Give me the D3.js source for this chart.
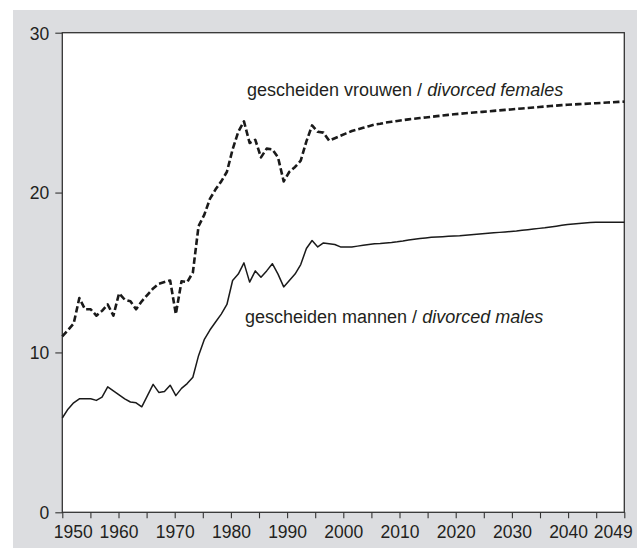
<!DOCTYPE html>
<html>
<head>
<meta charset="utf-8">
<script src="https://cdn.jsdelivr.net/npm/d3@7/dist/d3.min.js"></script>
<style>
  html, body { margin: 0; padding: 0; background: #ffffff; }
  svg { display: block; }
  text { font-family: "Liberation Sans", Arial, Helvetica, sans-serif; fill: #231f20; }
</style>
</head>
<body>
<svg id="chart" width="637" height="548"></svg>
<script>
// ---------------- data ----------------
const firstYear = 1950;
const lastYear = 2049;

// gescheiden vrouwen / divorced females (%), 1950 .. 2049
const femaleValues = [
  11.0, 11.4, 11.8, 13.4, 12.7, 12.7, 12.3, 12.6, 13.0, 12.3,   // 1950-1959
  13.7, 13.3, 13.2, 12.7, 13.2, 13.6, 14.0, 14.3, 14.4, 14.5,   // 1960-1969
  12.4, 14.45, 14.4, 15.0, 17.9, 18.6, 19.6, 20.2, 20.7, 21.3,  // 1970-1979
  22.7, 23.8, 24.45, 23.1, 23.3, 22.2, 22.75, 22.7, 22.2, 20.7, // 1980-1989
  21.3, 21.6, 22.0, 23.2, 24.2, 23.8, 23.75, 23.25, 23.4, 23.55,// 1990-1999
  23.7, 23.85, 23.95, 24.05, 24.15, 24.25, 24.3, 24.38, 24.43, 24.48, // 2000-2009
  24.53, 24.58, 24.62, 24.66, 24.7, 24.74, 24.78, 24.82, 24.86, 24.9, // 2010-2019
  24.93, 24.96, 24.99, 25.02, 25.05, 25.08, 25.11, 25.14, 25.17, 25.2, // 2020-2029
  25.23, 25.26, 25.29, 25.32, 25.35, 25.38, 25.41, 25.44, 25.47, 25.49, // 2030-2039
  25.51, 25.53, 25.55, 25.57, 25.59, 25.61, 25.63, 25.65, 25.67, 25.69  // 2040-2049
];

// gescheiden mannen / divorced males (%), 1950 .. 2049
const maleValues = [
  5.9, 6.45, 6.85, 7.1, 7.1, 7.1, 7.0, 7.2, 7.85, 7.6,          // 1950-1959
  7.35, 7.1, 6.9, 6.85, 6.6, 7.3, 8.0, 7.5, 7.55, 7.95,         // 1960-1969
  7.3, 7.75, 8.05, 8.45, 9.8, 10.8, 11.4, 11.9, 12.4, 13.0,     // 1970-1979
  14.5, 14.9, 15.6, 14.4, 15.1, 14.7, 15.1, 15.55, 14.9, 14.1,  // 1980-1989
  14.5, 14.9, 15.5, 16.5, 17.0, 16.6, 16.85, 16.8, 16.75, 16.6, // 1990-1999
  16.6, 16.6, 16.65, 16.7, 16.75, 16.8, 16.82, 16.85, 16.88, 16.92, // 2000-2009
  16.97, 17.03, 17.08, 17.12, 17.16, 17.2, 17.22, 17.24, 17.26, 17.28, // 2010-2019
  17.3, 17.33, 17.36, 17.39, 17.42, 17.45, 17.48, 17.51, 17.54, 17.57, // 2020-2029
  17.6, 17.64, 17.68, 17.72, 17.76, 17.8, 17.85, 17.9, 17.95, 18.0,    // 2030-2039
  18.04, 18.07, 18.1, 18.12, 18.14, 18.15, 18.15, 18.15, 18.15, 18.15  // 2040-2049
];

const yTickValues = [0, 10, 20, 30];
const xTickValues = [1950, 1955, 1960, 1965, 1970, 1975, 1980, 1985, 1990, 1995,
                     2000, 2005, 2010, 2015, 2020, 2025, 2030, 2035, 2040, 2045, 2050];
const xTickLabels = ["1950", "", "1960", "", "1970", "", "1980", "", "1990", "",
                     "2000", "", "2010", "", "2020", "", "2030", "", "2040", "", "2049"];

const femaleLabelNl = "gescheiden vrouwen / ";
const femaleLabelEn = "divorced females";
const maleLabelNl = "gescheiden mannen / ";
const maleLabelEn = "divorced males";

// ---------------- layout ----------------
const W = 637, H = 548;
const plot = { left: 62.3, top: 32.7, right: 624.3, bottom: 512.3 };

const svg = d3.select("#chart");

svg.append("rect")
  .attr("x", 13).attr("y", 10)
  .attr("width", W - 13).attr("height", H - 10)
  .attr("fill", "#dcdde0");

svg.append("rect")
  .attr("x", plot.left).attr("y", plot.top)
  .attr("width", plot.right - plot.left).attr("height", plot.bottom - plot.top)
  .attr("fill", "#ffffff");

// scales
const years = d3.range(firstYear, lastYear + 1);
const x = d3.scaleLinear().domain([firstYear, lastYear]).range([plot.left, plot.right]);
const xAxisScale = d3.scaleLinear().domain([1950, 2050]).range([plot.left, plot.right]);
const y = d3.scaleLinear().domain([0, 30]).range([plot.bottom, plot.top]);

const fontSize = 17.5;

// y axis
const yAxis = svg.append("g")
  .attr("transform", `translate(${plot.left},0)`)
  .call(d3.axisLeft(y).tickValues(yTickValues).tickSize(7).tickSizeOuter(0).tickPadding(6));
yAxis.select(".domain").remove();
yAxis.selectAll(".tick line").attr("stroke", "#333").attr("stroke-width", 1.1);
yAxis.selectAll(".tick text")
  .style("font-size", fontSize + "px")
  .style("font-family", '"Liberation Sans", Arial, sans-serif')
  .attr("fill", "#231f20")
  .attr("dy", "0.36em");

// x axis
const xAxis = svg.append("g")
  .attr("transform", `translate(0,${plot.bottom})`)
  .call(d3.axisBottom(xAxisScale).tickValues(xTickValues).tickSize(6).tickSizeOuter(0).tickPadding(7)
    .tickFormat((d, i) => xTickLabels[i]));
xAxis.select(".domain").remove();
xAxis.selectAll(".tick line").attr("stroke", "#333").attr("stroke-width", 1.1);
xAxis.selectAll(".tick text")
  .style("font-size", fontSize + "px")
  .style("font-family", '"Liberation Sans", Arial, sans-serif')
  .attr("fill", "#231f20")
  .attr("dx", (d, i) => i === 0 ? 10.5 : (i === xTickValues.length - 1 ? -11.5 : 0));

// frame
svg.append("rect")
  .attr("x", plot.left).attr("y", plot.top)
  .attr("width", plot.right - plot.left).attr("height", plot.bottom - plot.top)
  .attr("fill", "none")
  .attr("stroke", "#333")
  .attr("stroke-width", 1.3);

// lines
const line = d3.line()
  .x(d => x(d.year))
  .y(d => y(d.value));

const femaleData = years.map((yr, i) => ({ year: yr, value: femaleValues[i] }));
const maleData = years.map((yr, i) => ({ year: yr, value: maleValues[i] }));

svg.append("path")
  .datum(maleData)
  .attr("d", line)
  .attr("fill", "none")
  .attr("stroke", "#1a1a1a")
  .attr("stroke-width", 1.5)
  .attr("stroke-linejoin", "round");

svg.append("path")
  .datum(femaleData)
  .attr("d", line)
  .attr("fill", "none")
  .attr("stroke", "#1a1a1a")
  .attr("stroke-width", 2.6)
  .attr("stroke-dasharray", "6.5,3")
  .attr("stroke-linejoin", "round");

// labels
const labelSize = 18;
function addLabel(xPos, yPos, nl, en) {
  const t = svg.append("text")
    .attr("x", xPos).attr("y", yPos)
    .style("font-size", labelSize + "px");
  t.append("tspan").text(nl);
  t.append("tspan").style("font-style", "italic").text(en);
}
addLabel(247, 95.5, femaleLabelNl, femaleLabelEn);
addLabel(245, 323, maleLabelNl, maleLabelEn);
</script>
</body>
</html>
